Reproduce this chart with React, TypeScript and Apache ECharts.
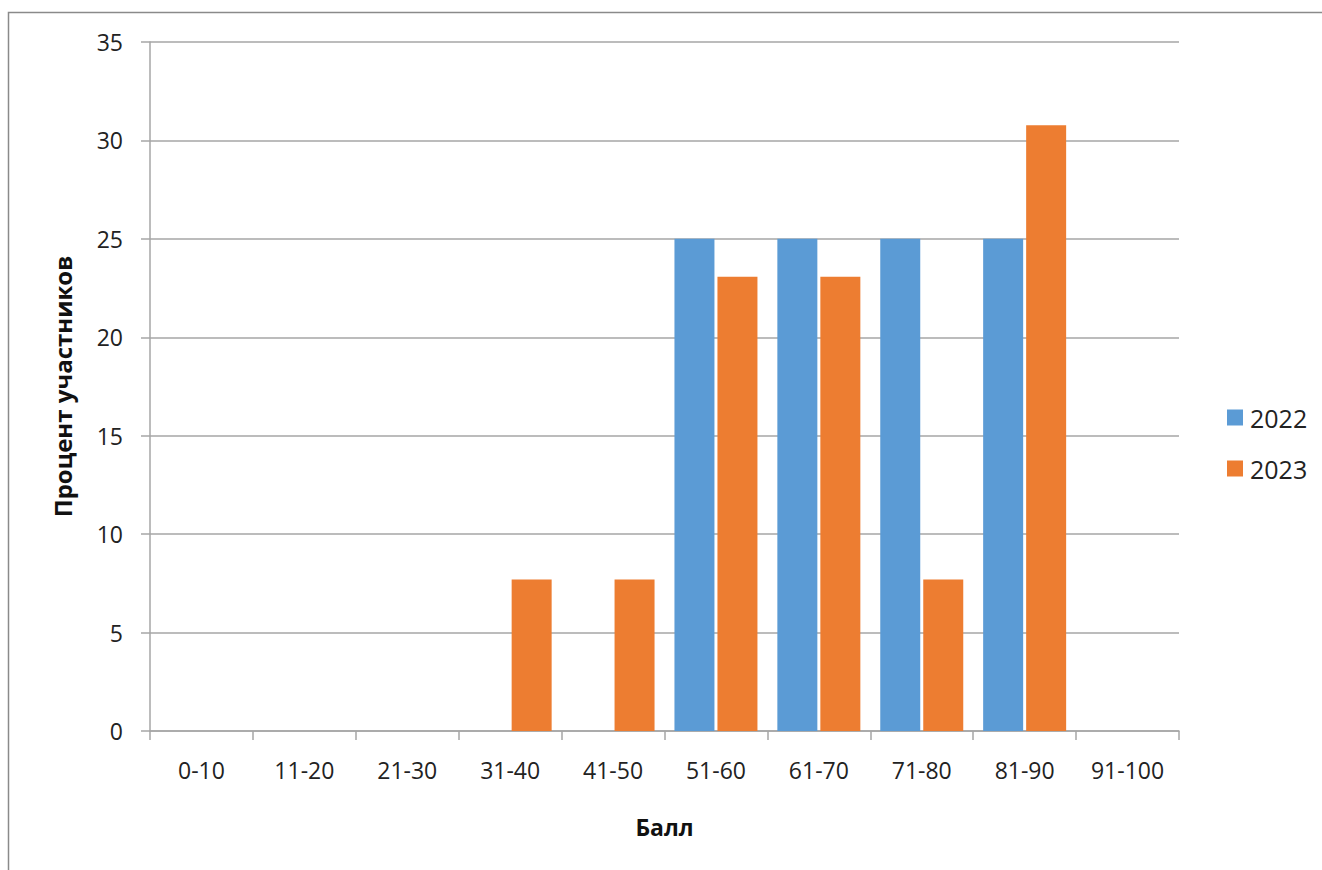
import React, { useEffect, useRef } from "react";
import * as echarts from "echarts";

const categories = ["0-10", "11-20", "21-30", "31-40", "41-50", "51-60", "61-70", "71-80", "81-90", "91-100"];
const values2022 = [0, 0, 0, 0, 0, 25, 25, 25, 25, 0];
const values2023 = [0, 0, 0, 7.69, 7.69, 23.08, 23.08, 7.69, 30.77, 0];
const seriesNames = ["2022", "2023"];
const colors = ["#5B9BD5", "#ED7D31"];

const FONT = "'Open Sans', 'Noto Sans', sans-serif";

export default function App() {
  const ref = useRef<HTMLDivElement>(null);
  useEffect(() => {
    if (!ref.current) return;
    const chart = echarts.init(ref.current, null, { renderer: "svg" });
    chart.setOption({
      animation: false,
      backgroundColor: "#ffffff",
      textStyle: { fontFamily: FONT },
      graphic: [
        {
          type: "rect",
          shape: { x: 8.5, y: 12.5, width: 1400, height: 950 },
          style: { fill: "none", stroke: "#8a8a8a", lineWidth: 1.5 },
          silent: true,
        },
      ],
      legend: {
        orient: "vertical",
        left: 1222,
        top: 400,
        itemWidth: 16,
        itemHeight: 16,
        itemGap: 26,
        icon: "rect",
        textStyle: { fontSize: 25, color: "#222", fontFamily: FONT, padding: [0, 0, 0, 2] },
        data: seriesNames,
      },
      grid: { left: 150, right: 143, top: 42, bottom: 139, containLabel: false },
      xAxis: {
        type: "category",
        data: categories,
        name: "Балл",
        nameLocation: "middle",
        nameGap: 84,
        nameTextStyle: { fontSize: 23, fontWeight: "bold", color: "#111", fontFamily: FONT },
        axisLine: { lineStyle: { color: "#a6a6a6", width: 1.5 } },
        axisTick: { show: true, length: 9, alignWithLabel: false, lineStyle: { color: "#a6a6a6", width: 1.5 } },
        axisLabel: { fontSize: 23, color: "#222", margin: 27, fontFamily: FONT },
      },
      yAxis: {
        type: "value",
        min: 0,
        max: 35,
        interval: 5,
        name: "Процент участников",
        nameLocation: "middle",
        nameGap: 76,
        nameTextStyle: { fontSize: 24, fontWeight: "bold", color: "#111", fontFamily: FONT },
        axisLine: { show: true, lineStyle: { color: "#a6a6a6", width: 1.5 } },
        axisTick: { show: true, length: 9, lineStyle: { color: "#a6a6a6", width: 1.5 } },
        axisLabel: { fontSize: 23, color: "#222", margin: 27, fontFamily: FONT },
        splitLine: { show: true, lineStyle: { color: "#a6a6a6", width: 1.5 } },
      },
      series: [
        {
          name: seriesNames[0],
          type: "bar",
          data: values2022,
          itemStyle: { color: colors[0] },
          barWidth: 40,
          barGap: "7.5%",
        },
        {
          name: seriesNames[1],
          type: "bar",
          data: values2023,
          itemStyle: { color: colors[1] },
          barWidth: 40,
          barGap: "7.5%",
        },
      ],
    });
    return () => chart.dispose();
  }, []);
  return <div ref={ref} style={{ position: "fixed", left: 0, top: 0, width: 1322, height: 870 }} />;
}
